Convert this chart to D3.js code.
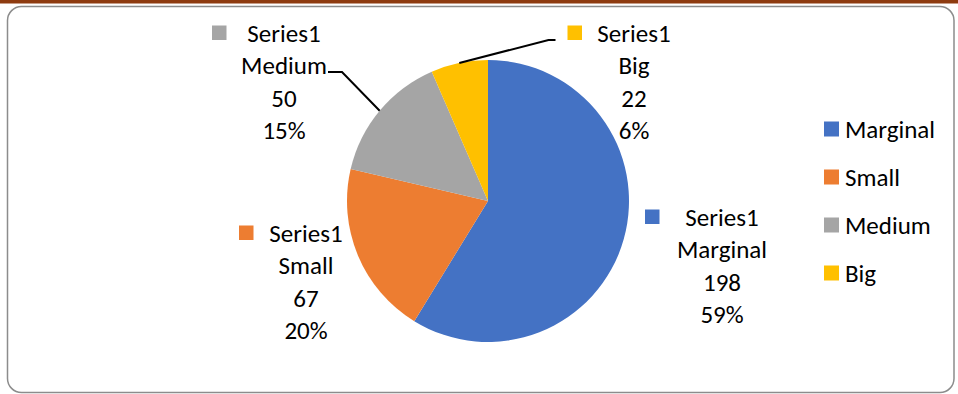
<!DOCTYPE html>
<html>
<head>
<meta charset="utf-8">
<script src="https://cdn.jsdelivr.net/npm/d3@7"></script>
<style>
  html, body { margin: 0; padding: 0; background: #fff; }
  svg { display: block; }
  text { font-family: Carlito, Calibri, Lato, "Open Sans", sans-serif; fill: #000; }
</style>
</head>
<body>
<svg id="chart" width="958" height="394"></svg>
<script>
// Farm size categories and their counts
const categories = ["Marginal", "Small", "Medium", "Big"];
const values = [198, 67, 50, 22];
const percentLabels = ["59%", "20%", "15%", "6%"];
const seriesName = "Series1";
const colors = ["#4472C4", "#ED7D31", "#A5A5A5", "#FFC000"];

// Layout
const W = 958, H = 394;
const cx = 488, cy = 201, R = 141;
const fontSize = 25, lineH = 32.5;
// label text centre relative to pie centre (first line), key square offset, leader style
const labelLayout = [
  { dx: 234, dy: 16, key: -77, leader: null },
  { dx: -182, dy: 32, key: -67, leader: null },
  { dx: -204, dy: -168, key: -72, leader: "right" },
  { dx: 146, dy: -168, key: -66.5, leader: "left" }
];

const svg = d3.select("#chart");

// top accent bar and rounded chart frame
svg.append("rect").attr("x", 0).attr("y", 0).attr("width", W).attr("height", 3.5).attr("fill", "#8E3B10");
svg.append("rect").attr("x", 7.5).attr("y", 6.5).attr("width", 946.5).attr("height", 386)
  .attr("rx", 14).attr("ry", 14).attr("fill", "#fff").attr("stroke", "#8c8c8c").attr("stroke-width", 1.5);

const pie = d3.pie().sort(null).value(d => d)(values);
const arc = d3.arc().innerRadius(0).outerRadius(R);

const g = svg.append("g").attr("transform", `translate(${cx},${cy})`);
g.selectAll("path.slice").data(pie).join("path")
  .attr("class", "slice")
  .attr("d", arc)
  .attr("fill", (d, i) => colors[i]);

// data labels
pie.forEach((d, i) => {
  const L = labelLayout[i];
  const lines = [seriesName, categories[i], String(values[i]), percentLabels[i]];
  const lg = g.append("g");
  lines.forEach((t, k) => {
    lg.append("text")
      .attr("x", L.dx)
      .attr("y", L.dy + k * lineH)
      .attr("text-anchor", "middle")
      .attr("dominant-baseline", "central")
      .attr("font-size", fontSize)
      .text(t);
  });
  // colour key in front of the series name
  lg.append("rect")
    .attr("x", L.dx + L.key).attr("y", L.dy - 7.5)
    .attr("width", 14.5).attr("height", 14.5)
    .attr("fill", colors[i]);

  if (L.leader) {
    const mid = (d.startAngle + d.endAngle) / 2;
    const px = R * Math.sin(mid), py = -R * Math.cos(mid);
    let pts;
    if (L.leader === "right") {
      const y0 = L.dy + 39;
      const x0 = L.dx + 44;
      pts = [[x0, y0], [x0 + 14, y0], [px, py]];
    } else {
      const y0 = L.dy + 7;
      const x0 = L.dx + L.key - 12;
      pts = [[x0, y0], [x0 - 7, y0], [px, py]];
    }
    g.append("path")
      .attr("d", d3.line()(pts))
      .attr("fill", "none").attr("stroke", "#000").attr("stroke-width", 2);
  }
});

// legend
const leg = svg.append("g").attr("transform", "translate(824,129)");
categories.forEach((c, i) => {
  const row = leg.append("g").attr("transform", `translate(0,${i * 48})`);
  row.append("rect").attr("x", 0).attr("y", -7.5).attr("width", 15).attr("height", 15).attr("fill", colors[i]);
  row.append("text").attr("x", 21).attr("y", 0).attr("dominant-baseline", "central")
    .attr("font-size", fontSize).text(c);
});
</script>
</body>
</html>
